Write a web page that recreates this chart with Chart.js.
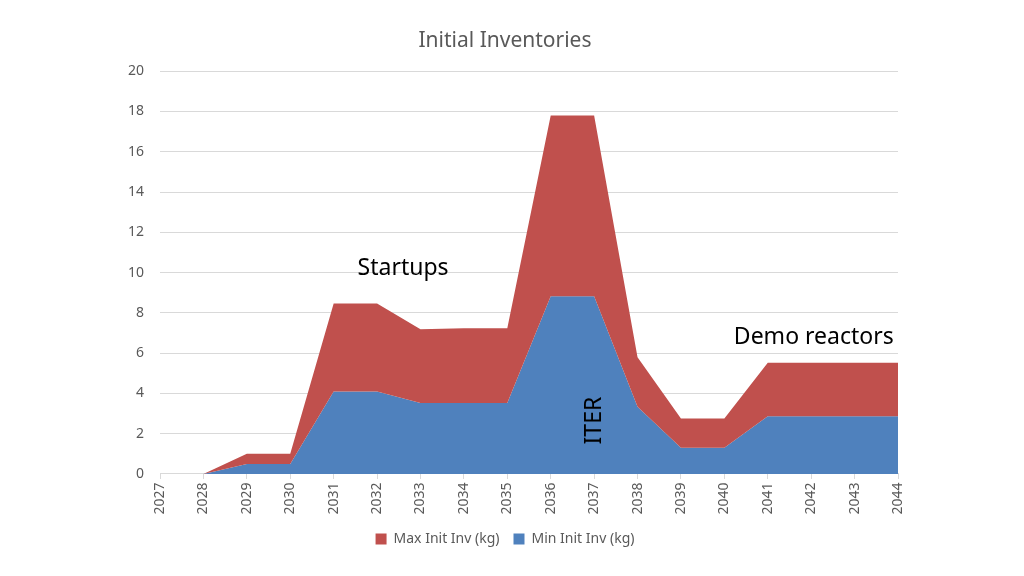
<!DOCTYPE html>
<html>
<head>
<meta charset="utf-8">
<script src="https://cdn.jsdelivr.net/npm/chart.js@4"></script>
<style>
  html, body { margin: 0; padding: 0; background: #fff; }
  #wrap { width: 1024px; height: 576px; }
</style>
</head>
<body>
<div id="wrap"><canvas id="inventories"></canvas></div>
<script>
const years = ['2027', '2028', '2029', '2030', '2031', '2032', '2033', '2034', '2035',
  '2036', '2037', '2038', '2039', '2040', '2041', '2042', '2043', '2044'];
const maxInitInv = [0, 0, 1.0, 1.0, 8.46, 8.46, 7.18, 7.23, 7.23,
  17.8, 17.8, 5.8, 2.76, 2.76, 5.52, 5.52, 5.52, 5.52];
const minInitInv = [0, 0, 0.5, 0.5, 4.09, 4.09, 3.53, 3.53, 3.53,
  8.83, 8.83, 3.34, 1.3, 1.3, 2.87, 2.87, 2.87, 2.87];
const yTicks = [0, 2, 4, 6, 8, 10, 12, 14, 16, 18, 20];

// text labels placed on the plot (category index, value)
const notes = [
  { text: 'Startups', x: 5.6, y: 10.2, rotate: false },
  { text: 'Demo reactors', x: 15.06, y: 6.8, rotate: false },
  { text: 'ITER', x: 10.0, y: 2.65, rotate: true }
];

const FONT = '"Noto Sans", "Open Sans", sans-serif';

const notesPlugin = {
  id: 'notes',
  afterDatasetsDraw(chart) {
    const ctx = chart.ctx;
    const xs = chart.scales.x;
    const ys = chart.scales.y;
    ctx.save();
    ctx.fillStyle = '#000';
    ctx.font = '23px ' + FONT;
    ctx.textAlign = 'center';
    ctx.textBaseline = 'middle';
    notes.forEach(function (n) {
      const px = xs.getPixelForValue(n.x);
      const py = ys.getPixelForValue(n.y);
      ctx.save();
      ctx.translate(px, py);
      if (n.rotate) ctx.rotate(-Math.PI / 2);
      ctx.fillText(n.text, 0, 0);
      ctx.restore();
    });
    ctx.restore();
  }
};

new Chart(document.getElementById('inventories'), {
  type: 'line',
  data: {
    labels: years,
    datasets: [{
      label: 'Max Init Inv (kg)',
      data: maxInitInv,
      backgroundColor: '#C0504D',
      borderColor: '#C0504D',
      borderWidth: 0,
      pointRadius: 0,
      fill: '+1'
    }, {
      label: 'Min Init Inv (kg)',
      data: minInitInv,
      backgroundColor: '#4F81BD',
      borderColor: '#4F81BD',
      borderWidth: 0,
      pointRadius: 0,
      fill: 'origin'
    }]
  },
  options: {
    responsive: true,
    maintainAspectRatio: false,
    animation: false,
    layout: { padding: { left: 112, right: 126, top: 8, bottom: 20 } },
    plugins: {
      title: {
        display: true,
        text: 'Initial Inventories',
        color: '#595959',
        font: { family: FONT, size: 21, weight: 'normal' },
        padding: { top: 20, bottom: 18 }
      },
      legend: {
        position: 'bottom',
        labels: {
          color: '#595959',
          font: { family: FONT, size: 14 },
          boxWidth: 11,
          boxHeight: 11,
          padding: 14
        }
      },
      tooltip: { enabled: false }
    },
    scales: {
      x: {
        offset: false,
        grid: { display: true, drawOnChartArea: false, color: '#D9D9D9', tickLength: 5 },
        border: { color: '#D9D9D9' },
        ticks: {
          color: '#595959',
          font: { family: FONT, size: 14 },
          maxRotation: 90,
          minRotation: 90,
          autoSkip: false,
          padding: 3.5
        }
      },
      y: {
        min: 0,
        max: 20,
        afterBuildTicks: function (axis) {
          axis.ticks = yTicks.map(function (v) { return { value: v }; });
        },
        grid: { color: '#D9D9D9', drawTicks: false },
        border: { display: false },
        ticks: {
          color: '#595959',
          font: { family: FONT, size: 14 },
          padding: 16
        }
      }
    }
  },
  plugins: [notesPlugin]
});
</script>
</body>
</html>
